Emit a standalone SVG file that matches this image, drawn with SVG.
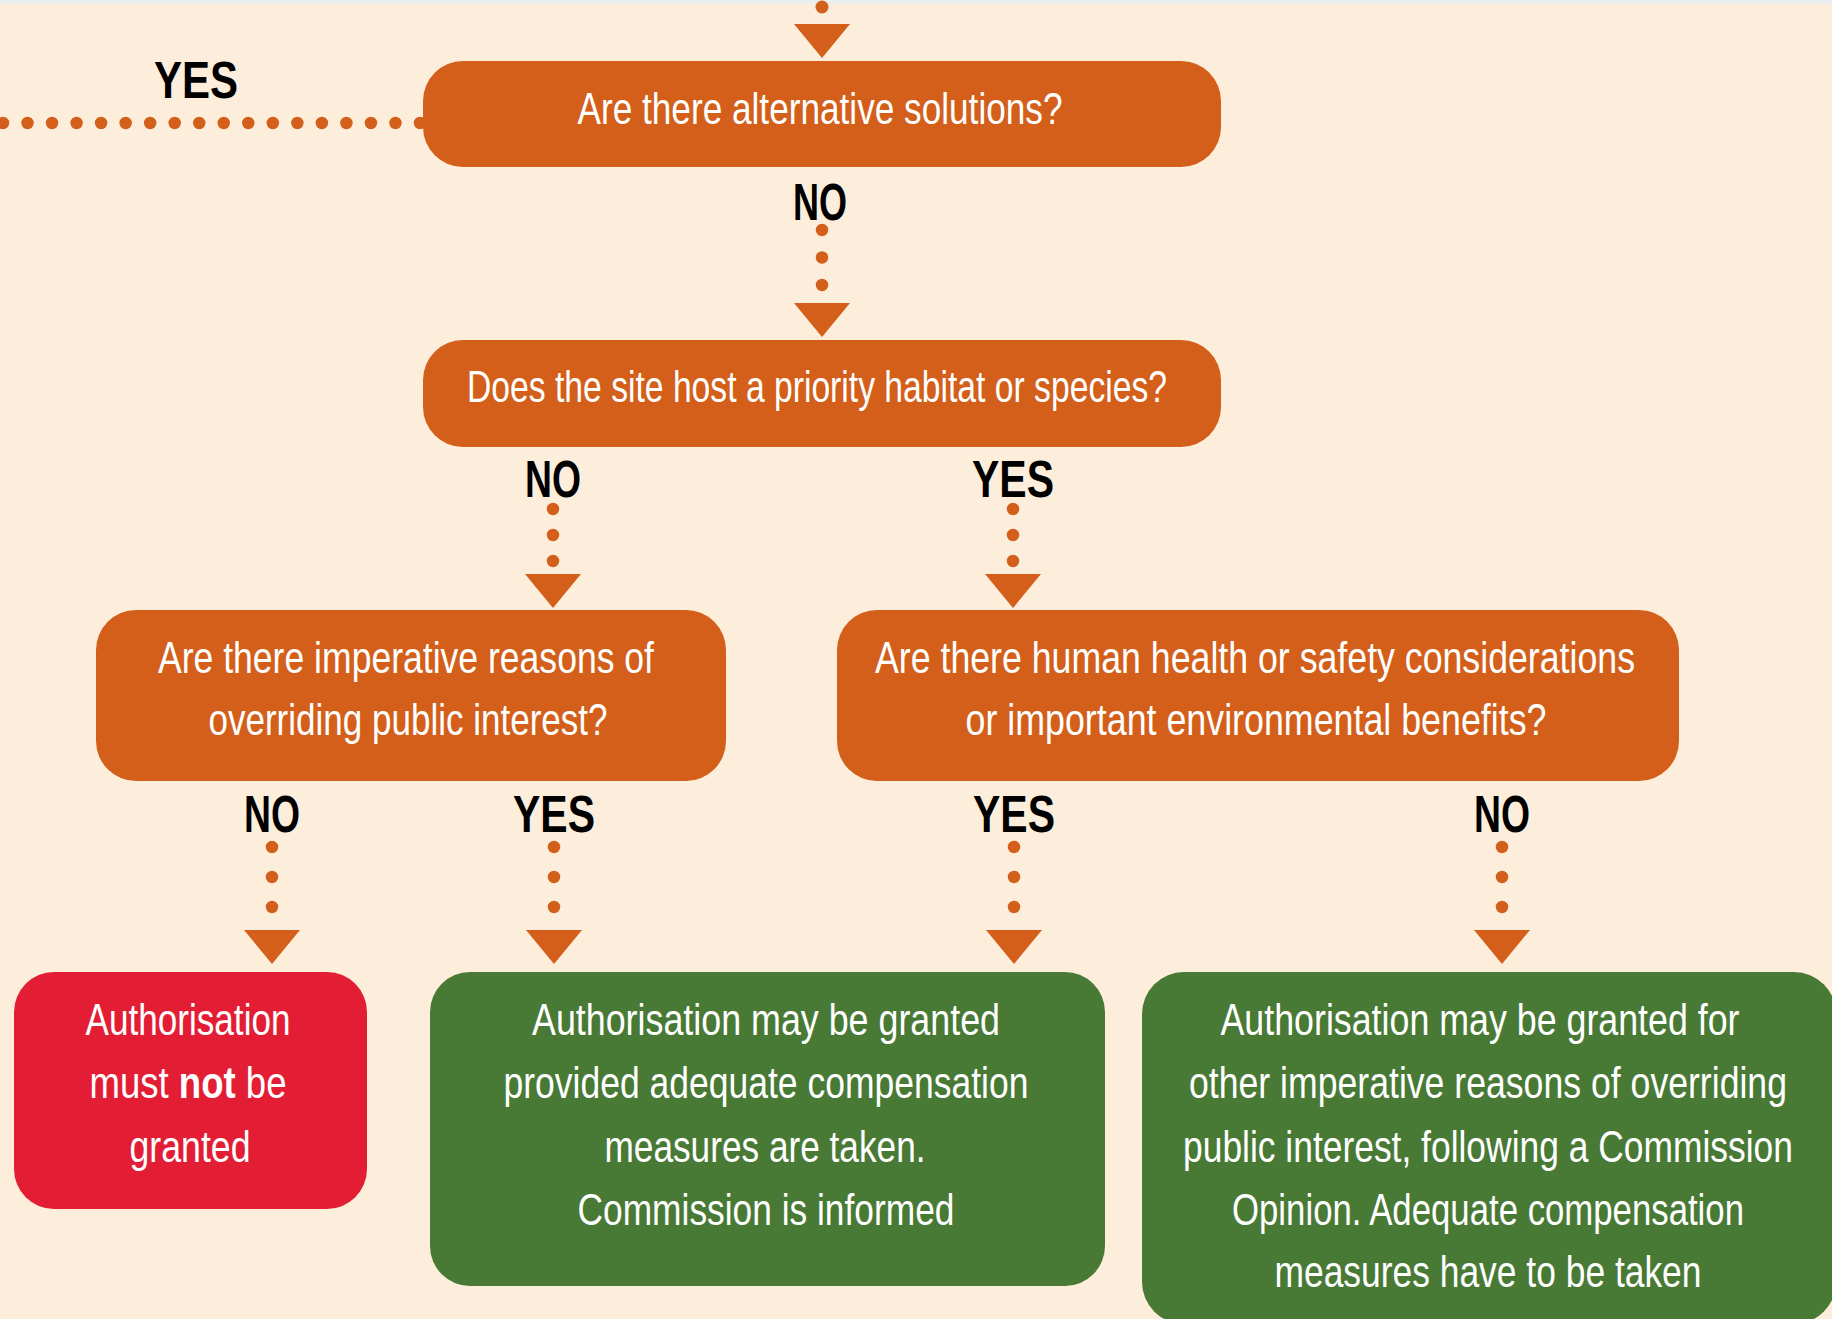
<svg xmlns="http://www.w3.org/2000/svg" xmlns:xlink="http://www.w3.org/1999/xlink" width="1832" height="1319" viewBox="0 0 1832 1319">
  <style>
    .bg { fill: #FDEEDC; }
    .strip { fill: #E9EEF1; }
    .q { fill: #D35F1A; }
    .stop { fill: #E31E34; }
    .go { fill: #487A35; }
    .t { font-family: "Liberation Sans", Arial, sans-serif; font-size: 44px; fill: #FFFFFF; text-anchor: middle; }
    .b { font-weight: bold; }
    .lbl { font-family: "Liberation Sans", Arial, sans-serif; font-size: 52px; font-weight: bold; fill: #000000; text-anchor: middle; }
    .dots { fill: none; stroke: #D35F1A; stroke-width: 12.5; stroke-linecap: round; }
    .arrow { fill: #D35F1A; }
  </style>
  <defs>
    <path id="arrowhead" class="arrow" d="M-28,0 L28,0 L0,34 Z"/>
  </defs>

  <rect class="bg" x="0" y="0" width="1832" height="1319"/>
  <rect class="strip" x="0" y="0" width="1832" height="4"/>

  <!-- connectors: dotted lines, arrowheads and branch labels -->
  <g id="connectors">
    <path class="dots" d="M420,123 L1,123" stroke-dasharray="0 24.53"/>
    <text class="lbl" x="196" y="98" textLength="84" lengthAdjust="spacingAndGlyphs">YES</text>

    <circle cx="822" cy="7" r="6.5" fill="#D35F1A"/>
    <use xlink:href="#arrowhead" x="822" y="24"/>

    <text class="lbl" x="820" y="220" textLength="54" lengthAdjust="spacingAndGlyphs">NO</text>
    <path class="dots" d="M822,230 L822,286" stroke-dasharray="0 27.5"/>
    <use xlink:href="#arrowhead" x="822" y="303"/>

    <text class="lbl" x="553" y="497" textLength="56" lengthAdjust="spacingAndGlyphs">NO</text>
    <path class="dots" d="M553,509 L553,562" stroke-dasharray="0 26"/>
    <use xlink:href="#arrowhead" x="553" y="574"/>

    <text class="lbl" x="1013" y="497" textLength="82" lengthAdjust="spacingAndGlyphs">YES</text>
    <path class="dots" d="M1013,509 L1013,562" stroke-dasharray="0 26"/>
    <use xlink:href="#arrowhead" x="1013" y="574"/>

    <text class="lbl" x="272" y="832" textLength="56" lengthAdjust="spacingAndGlyphs">NO</text>
    <path class="dots" d="M272,847 L272,908" stroke-dasharray="0 30"/>
    <use xlink:href="#arrowhead" x="272" y="930"/>

    <text class="lbl" x="554" y="832" textLength="82" lengthAdjust="spacingAndGlyphs">YES</text>
    <path class="dots" d="M554,847 L554,908" stroke-dasharray="0 30"/>
    <use xlink:href="#arrowhead" x="554" y="930"/>

    <text class="lbl" x="1014" y="832" textLength="82" lengthAdjust="spacingAndGlyphs">YES</text>
    <path class="dots" d="M1014,847 L1014,908" stroke-dasharray="0 30"/>
    <use xlink:href="#arrowhead" x="1014" y="930"/>

    <text class="lbl" x="1502" y="832" textLength="56" lengthAdjust="spacingAndGlyphs">NO</text>
    <path class="dots" d="M1502,847 L1502,908" stroke-dasharray="0 30"/>
    <use xlink:href="#arrowhead" x="1502" y="930"/>
  </g>

  <g id="alternatives">
    <rect class="q" x="423" y="61" width="798" height="106" rx="40"/>
    <text class="t" x="820" y="124" textLength="485" lengthAdjust="spacingAndGlyphs">Are there alternative solutions?</text>
  </g>

  <g id="priority">
    <rect class="q" x="423" y="340" width="798" height="107" rx="40"/>
    <text class="t" x="817" y="402" textLength="700" lengthAdjust="spacingAndGlyphs">Does the site host a priority habitat or species?</text>
  </g>

  <g id="iropi">
    <rect class="q" x="96" y="610" width="630" height="171" rx="40"/>
    <text class="t" x="406" y="673" textLength="496" lengthAdjust="spacingAndGlyphs">Are there imperative reasons of</text>
    <text class="t" x="408" y="735" textLength="399" lengthAdjust="spacingAndGlyphs">overriding public interest?</text>
  </g>

  <g id="health-safety">
    <rect class="q" x="837" y="610" width="842" height="171" rx="40"/>
    <text class="t" x="1255" y="673" textLength="760" lengthAdjust="spacingAndGlyphs">Are there human health or safety considerations</text>
    <text class="t" x="1256" y="735" textLength="581" lengthAdjust="spacingAndGlyphs">or important environmental benefits?</text>
  </g>

  <g id="refused">
    <rect class="stop" x="14" y="972" width="353" height="237" rx="40"/>
    <text class="t" x="188" y="1035" textLength="205" lengthAdjust="spacingAndGlyphs">Authorisation</text>
    <text class="t" x="188" y="1098" textLength="197" lengthAdjust="spacingAndGlyphs">must <tspan class="b">not</tspan> be</text>
    <text class="t" x="190" y="1162" textLength="121" lengthAdjust="spacingAndGlyphs">granted</text>
  </g>

  <g id="granted-informed">
    <rect class="go" x="430" y="972" width="675" height="314" rx="40"/>
    <text class="t" x="766" y="1035" textLength="468" lengthAdjust="spacingAndGlyphs">Authorisation may be granted</text>
    <text class="t" x="766" y="1098" textLength="525" lengthAdjust="spacingAndGlyphs">provided adequate compensation</text>
    <text class="t" x="765" y="1162" textLength="321" lengthAdjust="spacingAndGlyphs">measures are taken.</text>
    <text class="t" x="766" y="1225" textLength="377" lengthAdjust="spacingAndGlyphs">Commission is informed</text>
  </g>

  <g id="granted-opinion">
    <rect class="go" x="1142" y="972" width="694" height="352" rx="42"/>
    <text class="t" x="1480" y="1035" textLength="519" lengthAdjust="spacingAndGlyphs">Authorisation may be granted for</text>
    <text class="t" x="1488" y="1098" textLength="598" lengthAdjust="spacingAndGlyphs">other imperative reasons of overriding</text>
    <text class="t" x="1488" y="1162" textLength="610" lengthAdjust="spacingAndGlyphs">public interest, following a Commission</text>
    <text class="t" x="1488" y="1225" textLength="512" lengthAdjust="spacingAndGlyphs">Opinion. Adequate compensation</text>
    <text class="t" x="1488" y="1287" textLength="427" lengthAdjust="spacingAndGlyphs">measures have to be taken</text>
  </g>
</svg>
